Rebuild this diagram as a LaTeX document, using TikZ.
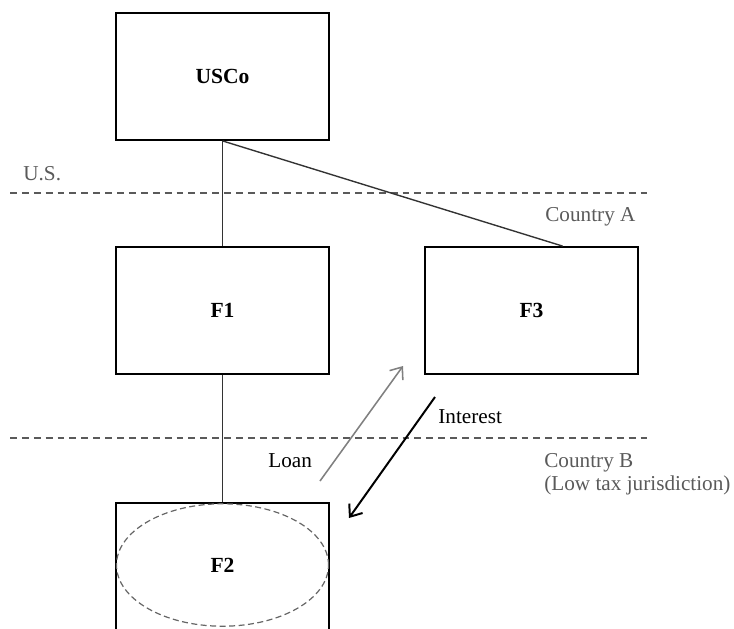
\documentclass[tikz,border=0pt]{standalone}
\usepackage{fontspec}
\setmainfont{Liberation Serif}
\usetikzlibrary{arrows.meta,shapes.geometric,calc}
\definecolor{regiongray}{HTML}{5A5A5A}
\definecolor{linegray}{HTML}{333333}
\begin{document}
\begin{tikzpicture}[x=0.58pt,y=-0.58pt,
  font=\fontsize{12.3}{14}\selectfont,
  entity/.style={draw=black, line width=1pt, minimum width=123.5pt,
    minimum height=73.7pt, inner sep=0pt, font=\fontsize{12.5}{14}\selectfont\bfseries},
  ring/.style={draw=gray!80!black, dash pattern=on 3.5pt off 2pt,
    line width=0.7pt, ellipse, minimum width=123pt, minimum height=71pt, inner sep=0pt},
  border/.style={draw=regiongray, line width=0.7pt, dash pattern=on 4pt off 2.9pt},
  region/.style={text=regiongray, inner sep=0pt, anchor=base west},
  owns/.style={draw=linegray, line width=0.8pt},
  flowlabel/.style={inner sep=0pt, anchor=base west},
  loanflow/.style={draw=gray, line width=0.9pt, -{Straight Barb[length=6pt,width=9.5pt]}},
  interestflow/.style={draw=black, line width=1.15pt, -{Straight Barb[length=6pt,width=9.5pt]}}]
  \useasboundingbox (0,0) rectangle (734,628);
  \clip (0,0) rectangle (734,628);

  % jurisdiction borders
  \coordinate (usl) at (10,193);
  \coordinate (usr) at (648,193);
  \coordinate (abl) at (10,438);
  \coordinate (abr) at (648,438);
  \draw[border] (usl) -- (usr);
  \draw[border] (abl) -- (abr);

  % region labels
  \node[region] (uslab) at (23,180) {U.S.};
  \node[region] (calab) at (545,221) {Country A};
  \node[region] (cblab) at (544,467) {Country B};
  \node[region] (cbsub) at (544,490) {(Low tax jurisdiction)};

  % entities
  \node[entity] (usco) at (222.5,76.5) {USCo};
  \node[entity] (f1) at (222.5,310.5) {F1};
  \node[entity] (f3) at (531.5,310.5) {F3};
  \node[entity, font=\fontsize{1}{1}\selectfont] (f2) at (222.5,566.5) {};
  \node[ring, font=\fontsize{12.5}{14}\selectfont\bfseries] (f2ring) at (222.5,565) {F2};

  % ownership lines
  \draw[owns] (usco.south) -- (f1.north);
  \draw[owns] (usco.south) -- ($(f3.north west)!0.645!(f3.north east)$);
  \draw[owns] (f1.south) -- (f2.north);

  % loan and interest flows
  \coordinate (loanstart) at (320,481);
  \coordinate (loanend) at (403,366);
  \coordinate (intstart) at (435,397);
  \coordinate (intend) at (349,518);
  \draw[loanflow] (loanstart) -- (loanend);
  \draw[interestflow] (intstart) -- (intend);
  \node[flowlabel] (loanlab) at (268,467) {Loan};
  \node[flowlabel] (intlab) at (438,423) {Interest};
\end{tikzpicture}
\end{document}
